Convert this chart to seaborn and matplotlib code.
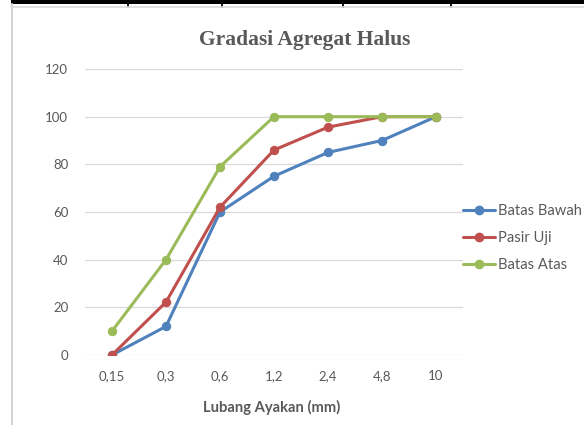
import matplotlib
matplotlib.use("Agg")
import matplotlib.pyplot as plt
import seaborn as sns
import pandas as pd
from matplotlib.lines import Line2D
from matplotlib.patches import Rectangle

# ---- data ----
sieve_sizes = ["0,15", "0,3", "0,6", "1,2", "2,4", "4,8", "10"]
batas_bawah = [0, 12, 60, 75, 85, 90, 100]
pasir_uji = [0, 22.2, 62, 86, 95.6, 100, 100]
batas_atas = [10, 40, 79, 100, 100, 100, 100]
series_names = ["Batas Bawah", "Pasir Uji", "Batas Atas"]
y_ticks = [0, 20, 40, 60, 80, 100, 120]

colors = ["#4F81BD", "#C0504D", "#9BBB59"]
gray_txt = "#595959"

rows = []
for name, vals in zip(series_names, [batas_bawah, pasir_uji, batas_atas]):
    for s, v in zip(sieve_sizes, vals):
        rows.append({"size": s, "value": v, "series": name})
df = pd.DataFrame(rows)

sns.set_style("white")
plt.rcParams["font.family"] = ["Lato", "DejaVu Sans"]

W, H = 584, 425
fig = plt.figure(figsize=(W / 100, H / 100), dpi=100)
ax = fig.add_axes([85 / W, 1 - 355 / H, (463 - 85) / W, (355 - 69) / H])

MS, LW = 6.0, 2.2
sns.lineplot(data=df, x="size", y="value", hue="series", hue_order=series_names,
             palette=colors, marker="o", markersize=MS, linewidth=LW,
             sort=False, ax=ax, legend=False, zorder=3)
for ln, c in zip(ax.lines, colors):
    ln.set_markeredgecolor(c)
    ln.set_markerfacecolor(c)
    ln.set_solid_capstyle("round")

ax.set_xlim(-0.5, len(sieve_sizes) - 0.5)
ax.set_ylim(0, 120)
ax.set_yticks(y_ticks)
ax.set_yticklabels([str(t) for t in y_ticks])
ax.grid(axis="y", color="#D9D9D9", linewidth=0.9)
ax.grid(axis="x", visible=False)
ax.set_axisbelow(True)
for sp in ax.spines.values():
    sp.set_visible(False)
ax.tick_params(axis="both", length=0, labelsize=9.5, labelcolor=gray_txt)
ax.tick_params(axis="y", pad=12)
ax.tick_params(axis="x", pad=11)
ax.set_xlabel("")
ax.set_ylabel("")
ax.patch.set_alpha(0)

# title and axis label
fig.text(305 / W, 1 - 40 / H, "Gradasi Agregat Halus", ha="center", va="center",
         fontsize=15.5, fontweight="bold", color=gray_txt, family="Liberation Serif")
fig.text(272 / W, 1 - 407 / H, "Lubang Ayakan (mm)", ha="center", va="center",
         fontsize=10.6, fontweight="bold", color=gray_txt)

# legend
handles = [Line2D([0], [0], color=c, lw=LW, marker="o", markersize=MS,
                  markerfacecolor=c, markeredgecolor=c) for c in colors]
leg = fig.legend(handles, series_names, loc="center left",
                 bbox_to_anchor=(463 / W, 1 - 238 / H), frameon=False,
                 borderpad=0, borderaxespad=0, handlelength=2.15,
                 handletextpad=0.2, labelspacing=0.86, fontsize=10.6)
for t in leg.get_texts():
    t.set_color(gray_txt)

# spreadsheet borders around the chart
fig.add_artist(Rectangle((11 / W, 1 - 4 / H), (W - 11) / W, 4 / H,
                         transform=fig.transFigure, color="black", lw=0))
for xp in [128, 222, 343, 451]:
    fig.add_artist(Line2D([xp / W, xp / W], [1, 1 - 6.5 / H],
                          transform=fig.transFigure, color="black", lw=1.3))
fig.add_artist(Line2D([11 / W, 1], [1 - 6.5 / H, 1 - 6.5 / H],
                      transform=fig.transFigure, color="#DCDCDC", lw=1.2))
fig.add_artist(Line2D([11.5 / W, 11.5 / W], [1 - 4 / H, 0],
                      transform=fig.transFigure, color="#D4D4D4", lw=1.5))

fig.savefig("out.png", dpi=100)
